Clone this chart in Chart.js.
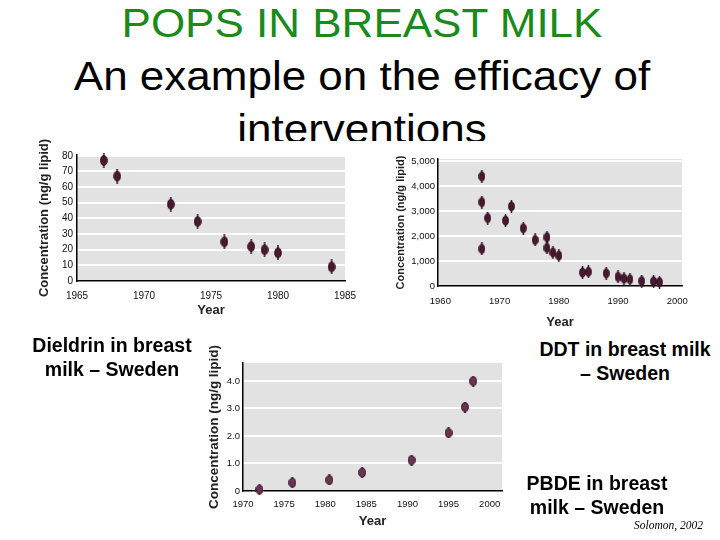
<!DOCTYPE html>
<html>
<head>
<meta charset="utf-8">
<script src="https://cdn.jsdelivr.net/npm/chart.js@4.4.0/dist/chart.umd.min.js"></script>
<style>
body { margin: 0; background: #fff; width: 720px; height: 540px; overflow: hidden; position: relative; font-family: 'Liberation Sans', Arial, sans-serif; }
#title { position: absolute; left: 0; top: 0; width: 724px; height: 141px; overflow: hidden; }
#title div { position: absolute; left: 0; width: 724px; text-align: center; font-size: 40px; line-height: 53px; white-space: nowrap; transform: scaleX(1.1); }
canvas { position: absolute; }
.lbl { position: absolute; width: 200px; font-weight: bold; font-size: 19.5px; line-height: 24px; text-align: center; white-space: nowrap; color: #000; }
#src { position: absolute; left: 634px; top: 519px; font-family: 'Liberation Serif', serif; font-style: italic; font-size: 11.5px; }
</style>
</head>
<body>
<div id="title">
  <div style="top:-3px;color:#1a8a1a">POPS IN BREAST MILK</div>
  <div style="top:50px">An example on the efficacy of</div>
  <div style="top:103px">interventions</div>
</div>

<canvas id="dieldrin" width="345" height="197" style="left:30px;top:125px"></canvas>
<canvas id="ddt" width="328" height="195" style="left:392px;top:138px"></canvas>
<canvas id="pbde" width="320" height="197" style="left:203px;top:335px"></canvas>

<div class="lbl" style="left:12px;top:333px">Dieldrin in breast<br>milk – Sweden</div>
<div class="lbl" style="left:525px;top:337px">DDT in breast milk<br>– Sweden</div>
<div class="lbl" style="left:497px;top:471px">PBDE in breast<br>milk – Sweden</div>
<div id="src">Solomon, 2002</div>

<script>
// Dieldrin, Sweden (ng/g lipid)
var dieldrinYears = [1967, 1968, 1972, 1974, 1976, 1978, 1979, 1980, 1984];
var dieldrinValues = [77, 67, 49, 38, 25, 22, 20, 18, 9];
var dieldrinXTicks = [1965, 1970, 1975, 1980, 1985];
var dieldrinYTicks = [0, 10, 20, 30, 40, 50, 60, 70, 80];

// DDT, Sweden (ng/g lipid)
var ddtYears = [1967, 1967, 1967, 1968, 1971, 1972, 1974, 1976, 1978, 1978, 1979, 1980, 1984, 1985, 1988, 1990, 1991, 1992, 1994, 1996, 1997];
var ddtValues = [4400, 3370, 1490, 2730, 2630, 3200, 2320, 1850, 1960, 1530, 1350, 1220, 540, 570, 510, 370, 300, 270, 200, 190, 160];
var ddtXTicks = [1960, 1970, 1980, 1990, 2000];
var ddtYTicks = [0, 1000, 2000, 3000, 4000, 5000];

// PBDE, Sweden (ng/g lipid)
var pbdeYears = [1972, 1976, 1980.5, 1984.5, 1990.5, 1995, 1997, 1998];
var pbdeValues = [0.05, 0.3, 0.4, 0.67, 1.12, 2.11, 3.05, 3.99];
var pbdeXTicks = [1970, 1975, 1980, 1985, 1990, 1995, 2000];
var pbdeYTicks = [0, 1, 2, 3, 4];

var axisFont = "'Liberation Sans', Arial, sans-serif";

// grey plot area like the scanned figures
var plotBg = {
    id: 'plotBg',
    beforeDraw(chart) {
        var a = chart.chartArea;
        var ctx = chart.ctx;
        ctx.save();
        ctx.fillStyle = '#e2e2e2';
        ctx.fillRect(a.left, a.top, a.right - a.left, a.bottom - a.top);
        ctx.restore();
    }
};

// dot with a small vertical error bar
function makeMarker(w, h, len, fill) {
    var c = document.createElement('canvas');
    c.width = w;
    c.height = len;
    var ctx = c.getContext('2d');
    ctx.strokeStyle = '#2a0a1a';
    ctx.lineWidth = 1.4;
    ctx.beginPath();
    ctx.moveTo(w / 2, 0);
    ctx.lineTo(w / 2, len);
    ctx.stroke();
    ctx.beginPath();
    ctx.ellipse(w / 2, len / 2, w / 2 - 0.7, h / 2, 0, 0, Math.PI * 2);
    ctx.fillStyle = fill;
    ctx.fill();
    ctx.lineWidth = 1;
    ctx.stroke();
    return c;
}

function plot(id, o) {
    var points = o.xs.map(function (x, i) { return { x: x, y: o.ys[i] }; });
    new Chart(document.getElementById(id), {
        type: 'scatter',
        data: {
            datasets: [{
                data: points,
                pointStyle: o.marker,
                pointRadius: 5,
                clip: false
            }]
        },
        options: {
            responsive: false,
            animation: false,
            layout: { padding: { top: o.padTop, right: o.padRight, left: 0, bottom: 0 } },
            plugins: { legend: { display: false }, tooltip: { enabled: false } },
            scales: {
                x: {
                    type: 'linear',
                    min: o.xMin,
                    max: o.xMax,
                    afterBuildTicks: function (s) { s.ticks = o.xTicks.map(function (v) { return { value: v }; }); },
                    afterFit: function (s) { s.height = o.xHeight; },
                    grid: { display: false, drawTicks: false },
                    border: { display: true, color: '#000', width: 1.5 },
                    ticks: {
                        color: '#111', padding: o.xTickPad, maxRotation: 0, autoSkip: false,
                        font: { family: axisFont, size: o.tickSize },
                        callback: function (v) { return String(v); }
                    },
                    title: { display: true, text: 'Year', color: '#222', padding: { top: 0, bottom: o.xTitlePad }, font: { family: axisFont, size: 13, weight: 'bold' } }
                },
                y: {
                    min: 0,
                    max: o.yMax,
                    afterBuildTicks: function (s) { s.ticks = o.yTicks.map(function (v) { return { value: v }; }); },
                    afterFit: function (s) { s.width = o.yWidth; },
                    grid: {
                        drawTicks: false,
                        lineWidth: 2,
                        color: function (c) { return c.tick && c.tick.value === 0 ? 'rgba(0,0,0,0)' : '#ffffff'; }
                    },
                    border: { display: true, color: '#000', width: 1.5 },
                    ticks: { color: '#111', padding: o.yTickPad, autoSkip: false, font: { family: axisFont, size: o.tickSize }, callback: o.yFmt },
                    title: { display: true, text: 'Concentration (ng/g lipid)', color: '#222', padding: { top: o.yTitlePad, bottom: 0 }, font: { family: axisFont, size: o.yTitleSize, weight: 'bold' } }
                }
            }
        },
        plugins: [plotBg]
    });
}

plot('dieldrin', {
    xs: dieldrinYears, ys: dieldrinValues,
    xMin: 1965, xMax: 1985, yMax: 80.5,
    xTicks: dieldrinXTicks, yTicks: dieldrinYTicks,
    yFmt: function (v) { return String(v); },
    marker: makeMarker(8, 10, 15, '#4a1831'),
    padTop: 30, padRight: 30, yWidth: 47, xHeight: 41,
    tickSize: 10, xTickPad: 9, yTickPad: 4,
    yTitleSize: 13, yTitlePad: 7, xTitlePad: 3.6
});

plot('ddt', {
    xs: ddtYears, ys: ddtValues,
    xMin: 1959.6, xMax: 2000.8, yMax: 5100,
    xTicks: ddtXTicks, yTicks: ddtYTicks,
    yFmt: function (v) { return v.toLocaleString('en-US'); },
    marker: makeMarker(7, 9, 13, '#4a1831'),
    padTop: 21, padRight: 38, yWidth: 46, xHeight: 47,
    tickSize: 9.5, xTickPad: 10, yTickPad: 3,
    yTitleSize: 11, yTitlePad: 2.4, xTitlePad: 3
});

plot('pbde', {
    xs: pbdeYears, ys: pbdeValues,
    xMin: 1970, xMax: 2001.5, yMax: 4.65,
    xTicks: pbdeXTicks, yTicks: pbdeYTicks,
    yFmt: function (v) { return v === 0 ? '0' : v.toFixed(1); },
    marker: makeMarker(8, 9, 11, '#6a3552'),
    padTop: 28, padRight: 21, yWidth: 40, xHeight: 41,
    tickSize: 9.5, xTickPad: 8, yTickPad: 3,
    yTitleSize: 13.5, yTitlePad: 3, xTitlePad: 2.6
});
</script>
</body>
</html>
